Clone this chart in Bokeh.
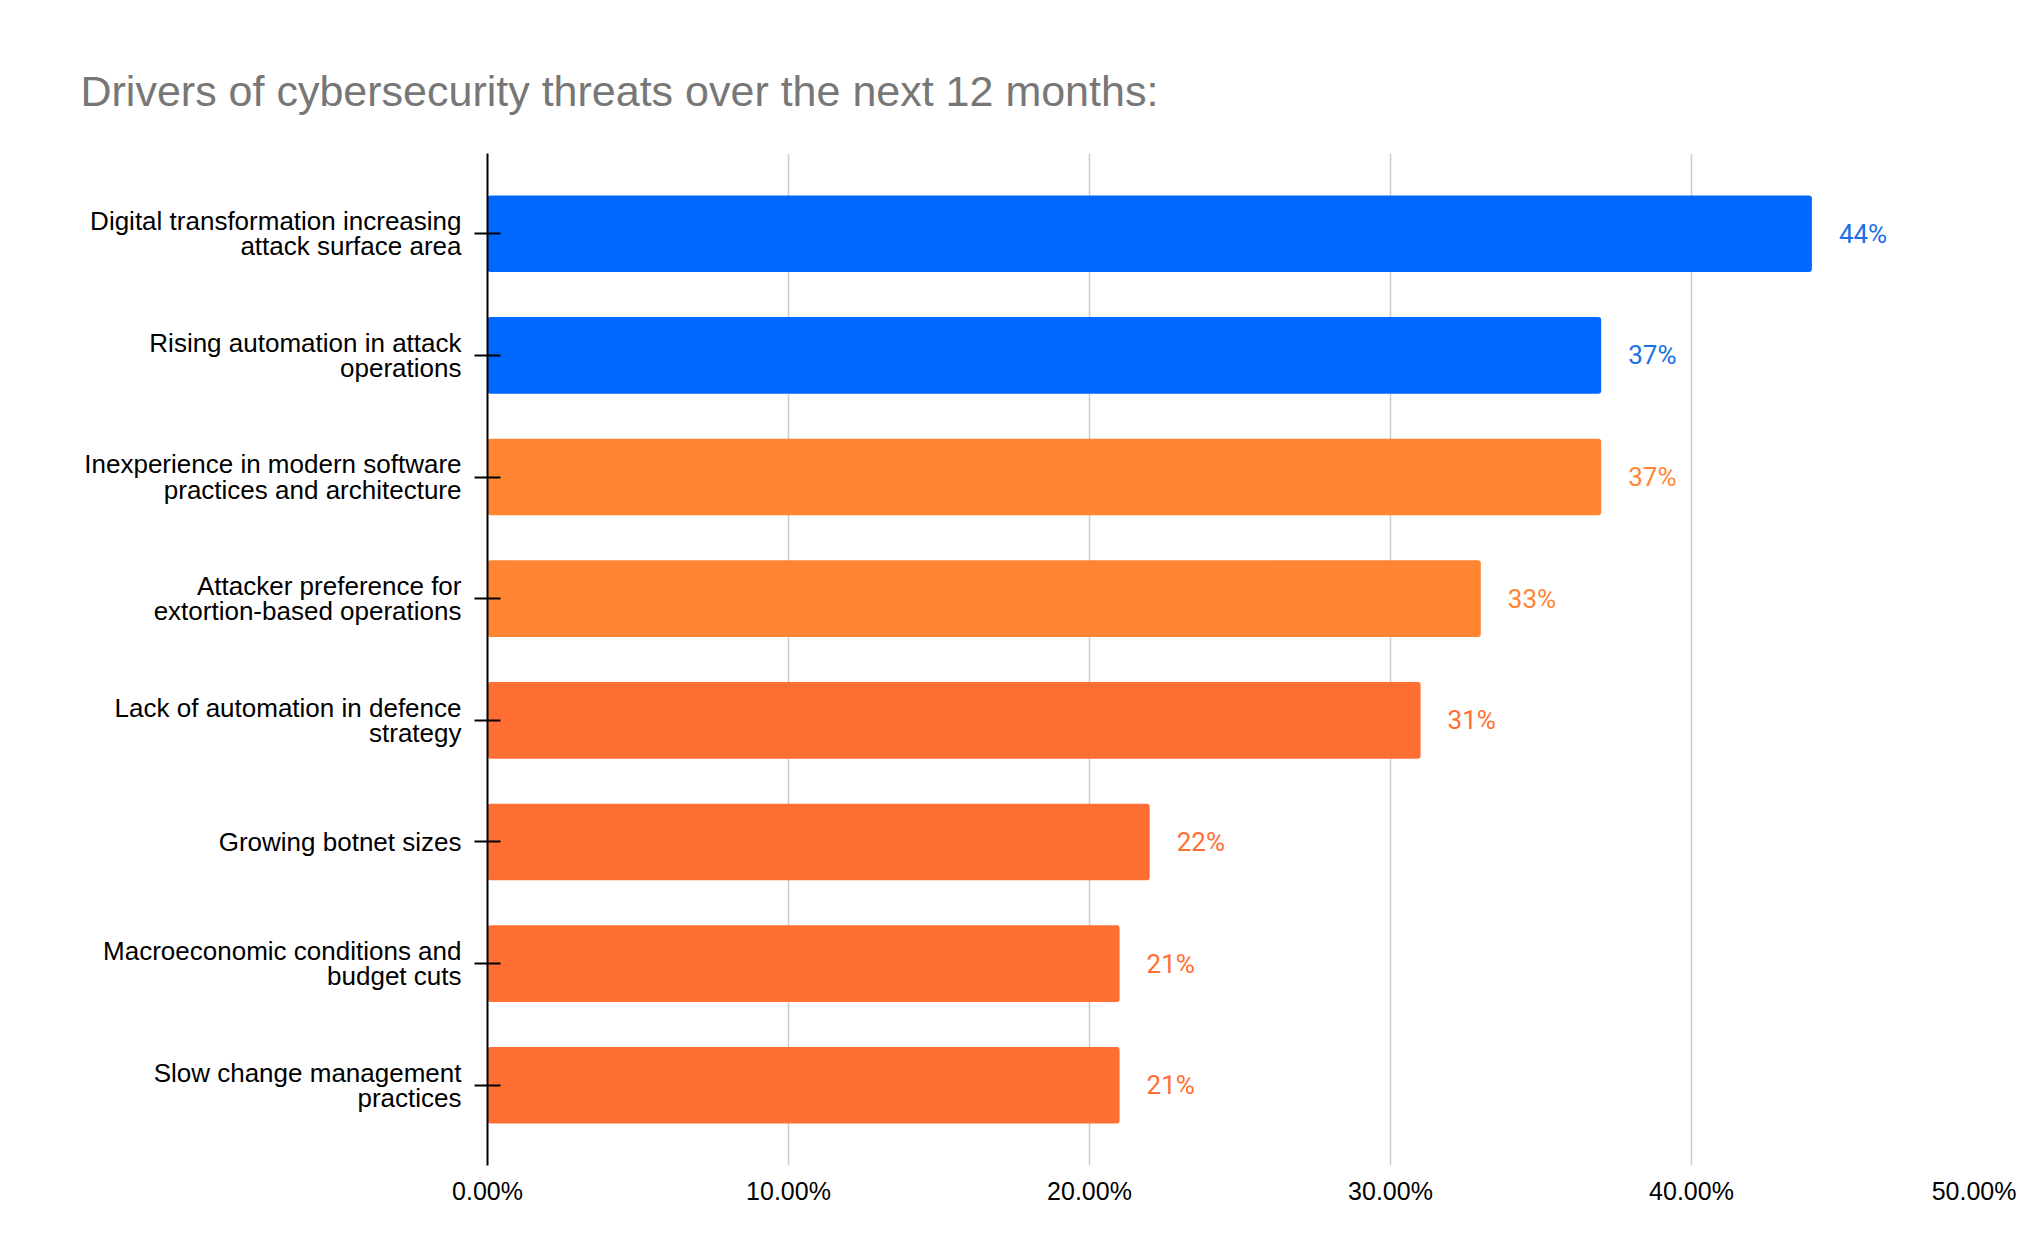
from bokeh.plotting import figure
from bokeh.models import FactorRange, NumeralTickFormatter, FixedTicker, ColumnDataSource
from bokeh.core.properties import value
from bokeh.embed import file_html
from bokeh.resources import INLINE

categories = [
    "Digital transformation increasing\nattack surface area",
    "Rising automation in attack\noperations",
    "Inexperience in modern software\npractices and architecture",
    "Attacker preference for\nextortion-based operations",
    "Lack of automation in defence\nstrategy",
    "Growing botnet sizes",
    "Macroeconomic conditions and\nbudget cuts",
    "Slow change management\npractices",
]
shares = [0.44, 0.37, 0.37, 0.33, 0.31, 0.22, 0.21, 0.21]
share_labels = ["44%", "37%", "37%", "33%", "31%", "22%", "21%", "21%"]
bar_colors = ["#0068FF", "#0068FF", "#FF8533", "#FF8533", "#FF6E33", "#FF6E33", "#FF6E33", "#FF6E33"]
label_colors = ["#1A6FE6", "#1A6FE6", "#FF8533", "#FF8533", "#FF6E33", "#FF6E33", "#FF6E33", "#FF6E33"]
x_ticks = [0.0, 0.1, 0.2, 0.3, 0.4, 0.5]

src = ColumnDataSource(dict(cat=categories, v=shares, lab=share_labels,
                            bc=bar_colors, lc=label_colors))

y_range = FactorRange(factors=list(reversed(categories)), range_padding=0.16,
                      range_padding_units="absolute")

p = figure(width=2016, height=1243, y_range=y_range, x_range=(0, 0.5),
           output_backend="svg", toolbar_location=None,
           min_border_left=487, min_border_right=24, min_border_top=153,
           min_border_bottom=78)

p.title.text = "Drivers of cybersecurity threats over the next 12 months:"
p.title.text_font = "Liberation Sans"
p.title.text_font_size = "43px"
p.title.text_font_style = "normal"
p.title.text_color = "#777777"
p.title.align = "left"
p.title.offset = -407
p.title.standoff = 77

p.hbar(y="cat", right="v", left=0, height=0.63, source=src,
       fill_color="bc", line_color=None, border_radius=3)

p.text(x="v", y="cat", text="lab", source=src, text_color="lc",
       x_offset=27, text_baseline="middle", text_align="left",
       text_font=value("Roboto"), text_font_size="26px")

p.outline_line_color = None
p.background_fill_color = "white"
p.border_fill_color = "white"

p.ygrid.grid_line_color = None
p.xgrid.grid_line_color = "#cccccc"
p.xgrid.grid_line_width = 1.5

p.xaxis.ticker = FixedTicker(ticks=x_ticks)
p.xaxis.formatter = NumeralTickFormatter(format="0.00%")
p.xaxis.axis_line_color = None
p.xaxis.major_tick_line_color = None
p.xaxis.minor_tick_line_color = None
p.xaxis.major_label_text_font = "Liberation Sans"
p.xaxis.major_label_text_font_size = "25px"
p.xaxis.major_label_text_color = "black"
p.xaxis.major_label_standoff = 5

p.yaxis.axis_line_color = "black"
p.yaxis.axis_line_width = 2
p.yaxis.major_tick_line_color = "black"
p.yaxis.major_tick_line_width = 2
p.yaxis.major_tick_in = 13
p.yaxis.major_tick_out = 13
p.yaxis.major_label_text_font = "Liberation Sans"
p.yaxis.major_label_text_font_size = "26px"
p.yaxis.major_label_text_color = "black"
p.yaxis.major_label_text_line_height = 0.84
p.yaxis.major_label_standoff = 13

open("out.html", "w").write(file_html(p, INLINE))
